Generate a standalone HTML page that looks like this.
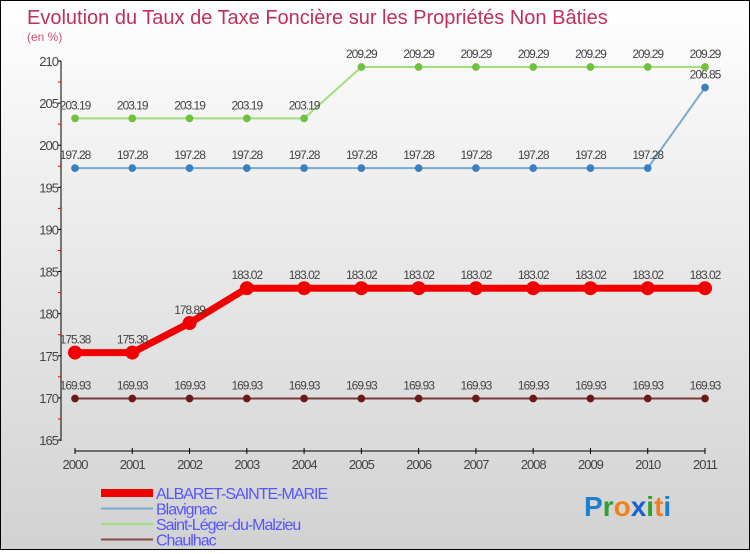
<!DOCTYPE html>
<html><head><meta charset="utf-8"><style>
body{margin:0}
#c{width:748px;height:548px;border:1px solid #000;background:linear-gradient(#fff 0%,#f0f0f0 30%,#d2d2d2 100%);position:relative;font-family:"Liberation Sans",sans-serif}
</style></head><body>
<div id="c">
<svg id="s" width="748" height="548"></svg>
</div>
<script>
const years=[2000,2001,2002,2003,2004,2005,2006,2007,2008,2009,2010,2011];
const albaret=[175.38,175.38,178.89,183.02,183.02,183.02,183.02,183.02,183.02,183.02,183.02,183.02];
const blavignac=[197.28,197.28,197.28,197.28,197.28,197.28,197.28,197.28,197.28,197.28,197.28,206.85];
const saintleger=[203.19,203.19,203.19,203.19,203.19,209.29,209.29,209.29,209.29,209.29,209.29,209.29];
const chaulhac=[169.93,169.93,169.93,169.93,169.93,169.93,169.93,169.93,169.93,169.93,169.93,169.93];
const yTicks=[165,170,175,180,185,190,195,200,205,210];
const names=["ALBARET-SAINTE-MARIE","Blavignac","Saint-Léger-du-Malzieu","Chaulhac"];
const s=document.getElementById('s');const NS="http://www.w3.org/2000/svg";
function X(i){return 74+i*(630/11);}
function Y(v){return 439-(v-165)*(379/45);}
function el(t,a,p){const e=document.createElementNS(NS,t);for(const k in a)e.setAttribute(k,a[k]);(p||s).appendChild(e);return e;}
let t=el('text',{x:26,y:23,'font-size':20,fill:'#c0305a'});t.textContent="Evolution du Taux de Taxe Foncière sur les Propriétés Non Bâties";

t=el('text',{x:26,y:40,'font-size':12,fill:'#d05070'});t.textContent="(en %)";

let ax=el('line',{x1:60,y1:60,x2:60,y2:440,stroke:'#000'});

yTicks.forEach((v,i)=>{el('line',{x1:57,x2:60,y1:Y(v),y2:Y(v),stroke:'#000'});
 if(i<yTicks.length-1)el('line',{x1:57,x2:60,y1:Y(v+2.5),y2:Y(v+2.5),stroke:'#e00'});
 const tt=el('text',{x:57,y:Y(v)+5,'text-anchor':'end','font-size':13,fill:'#444','letter-spacing':'-1'});tt.textContent=v;
 });
ax=el('line',{x1:X(0),y1:450,x2:X(11),y2:450,stroke:'#000'});

years.forEach((y,i)=>{el('line',{x1:X(i),x2:X(i),y1:447,y2:453,stroke:'#000'});
 const tt=el('text',{x:X(i),y:468,'text-anchor':'middle','font-size':13,fill:'#444','letter-spacing':'-1'});tt.textContent=y;
 });
const series=[[chaulhac,'#7a3a3a','#6a1a1a',2,5,'chaulhac'],[blavignac,'#7aaad0','#3a80c0',2,5,'blavignac'],[saintleger,'#9ee07a','#70c040',2,5,'saint-leger'],[albaret,'#f00000','#f00000',7,7,'albaret']];
series.forEach(([d,lc,pc,w,r,n])=>{
 const pl=el('polyline',{points:d.map((v,i)=>X(i)+','+Y(v)).join(' '),fill:'none',stroke:lc,'stroke-width':w});
 
 d.forEach((v,i)=>{const c=el('circle',{cx:X(i),cy:Y(v),r:r/ (n==='albaret'?1:1.3),fill:pc});
  
  const tt=el('text',{x:X(i),y:Y(v)-9,'text-anchor':'middle','font-size':12,fill:'#444','letter-spacing':'-1'});tt.textContent=v.toFixed(2);
  });});
const lc=[['#f00000',8],['#7aaad0',2],['#9ee07a',2],['#8a4a4a',2]];
names.forEach((nm,i)=>{const y=492+i*15.5;
 const l=el('line',{x1:100,x2:152,y1:y,y2:y,stroke:lc[i][0],'stroke-width':lc[i][1]});
 
 const tt=el('text',{x:155,y:y+6,'font-size':16,fill:'#5555ff','letter-spacing':'-1'});tt.textContent=nm;
 });
const lg=el('text',{x:583,y:515,'font-size':28,'font-weight':'bold'});

[['P','#1a80d0'],['r','#30a030'],['o','#f08020'],['x','#1a60d0'],['i','#30a030'],['t','#f08020'],['i','#1a80d0']].forEach(([c,f])=>{const ts=el('tspan',{fill:f},lg);ts.textContent=c;});
</script>
</body></html>
